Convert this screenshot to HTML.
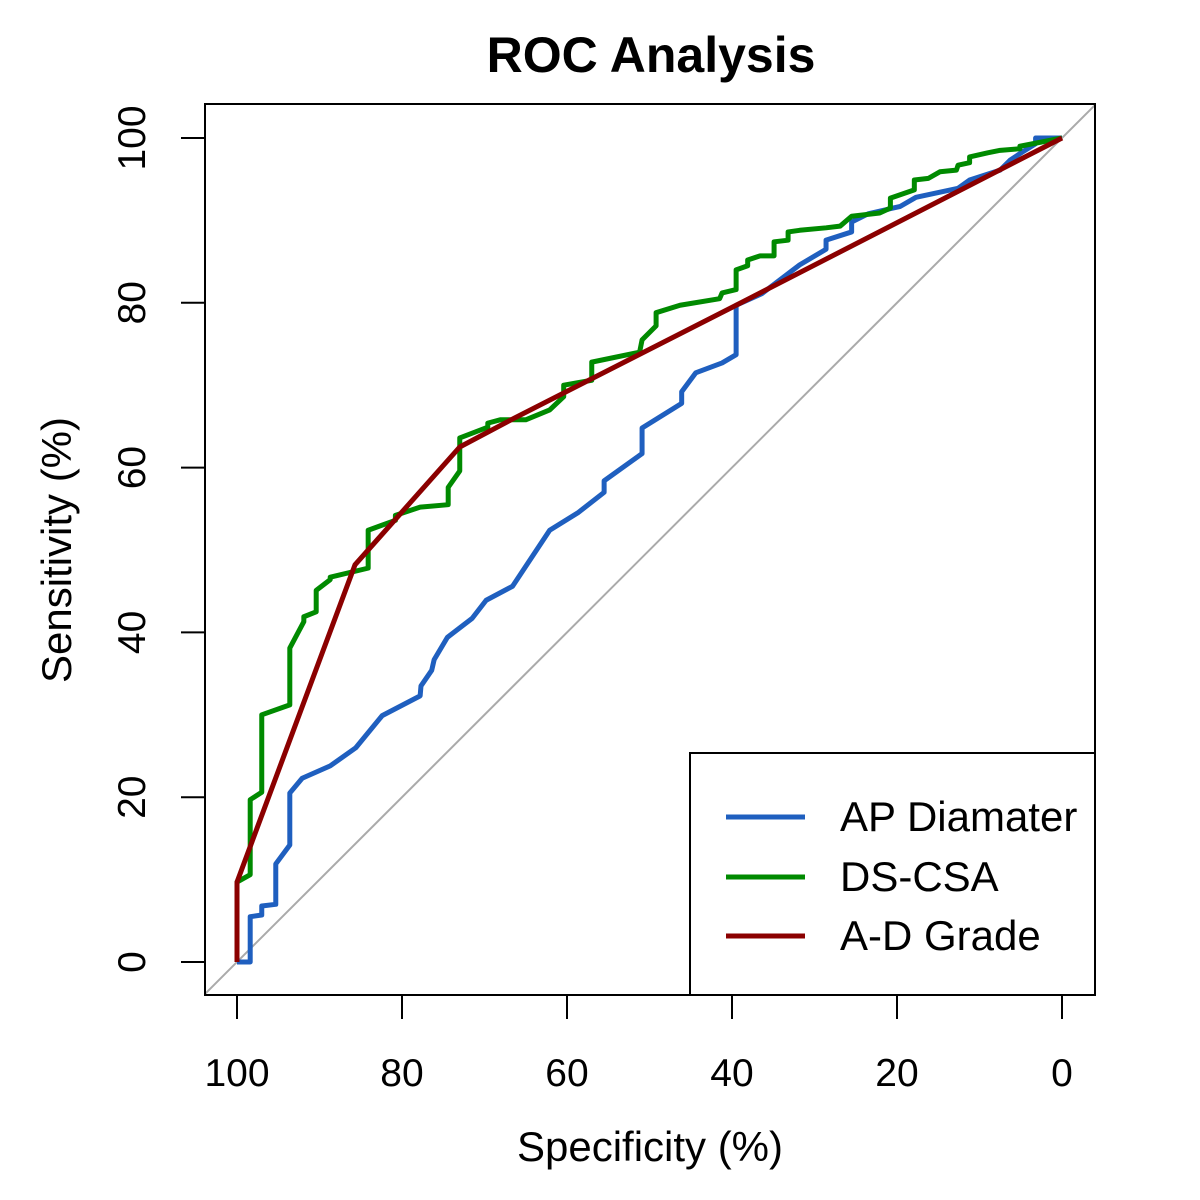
<!DOCTYPE html>
<html><head><meta charset="utf-8"><style>
html,body{margin:0;padding:0;background:#fff;}
svg{display:block;font-family:"Liberation Sans",Arial,sans-serif;}
</style></head><body>
<svg id="chart" width="1200" height="1200" viewBox="0 0 1200 1200">
<text x="651" y="72" text-anchor="middle" font-size="50" font-weight="bold">ROC Analysis</text>
<g id="axes"></g>
<g id="series"></g>
<rect x="205" y="104" width="890" height="891" fill="none" stroke="#000" stroke-width="2"/>
<g>
<rect x="690" y="753" width="405" height="242" fill="#fff" stroke="#000" stroke-width="2"/>
<line x1="726" y1="817" x2="805" y2="817" stroke="#1f5fbf" stroke-width="5"/>
<text x="840" y="831" font-size="42">AP Diamater</text>
<line x1="726" y1="877" x2="805" y2="877" stroke="#008a00" stroke-width="5"/>
<text x="840" y="891" font-size="42">DS-CSA</text>
<line x1="726" y1="936" x2="805" y2="936" stroke="#8b0000" stroke-width="5"/>
<text x="840" y="950" font-size="42">A-D Grade</text>
</g>
<text x="650" y="1161" text-anchor="middle" font-size="42">Specificity (%)</text>
<text transform="translate(71,550) rotate(-90)" text-anchor="middle" font-size="42">Sensitivity (%)</text>
</svg>
<script>
const xTicks = [100, 80, 60, 40, 20, 0];
const yTicks = [0, 20, 40, 60, 80, 100];
const apSpec = [100,98.4,98.4,97.0,97.0,95.3,95.3,93.6,93.6,92.1,88.7,85.6,82.4,77.8,77.7,76.4,76.1,74.5,71.5,69.8,66.6,62.1,58.7,55.5,55.5,50.9,50.9,46.1,46.1,44.4,41.2,39.5,39.5,36.4,31.8,28.6,28.6,25.5,25.5,23.5,19.6,17.7,12.6,11.2,7.5,6.3,4.8,3.2,3.2,0];
const apSens = [0,0,5.5,5.7,6.8,7.0,11.9,14.2,20.5,22.3,23.8,26.0,29.9,32.3,33.5,35.4,36.7,39.4,41.7,43.9,45.6,52.4,54.5,57.0,58.4,61.7,64.8,67.8,69.2,71.5,72.7,73.7,79.7,81.1,84.6,86.5,87.6,88.6,89.8,90.8,91.7,92.8,93.9,94.9,96.1,97.3,98.3,99.3,100,100];
const dsSpec = [100,100,98.4,98.4,97.0,97.0,93.6,93.6,91.9,91.9,90.4,90.4,88.7,88.7,84.1,84.1,80.8,80.8,77.8,74.4,74.4,73.0,73.0,69.6,69.6,68.1,65.0,62.1,60.4,60.4,57.0,57.0,51.2,50.9,49.2,49.2,46.3,41.5,41.2,39.5,39.5,38.1,38.1,36.6,34.9,34.9,33.2,33.2,31.8,28.6,26.9,25.5,22.1,20.8,20.8,17.9,17.9,16.2,14.8,12.8,12.6,11.2,11.2,9.0,7.5,5.1,5.1,0];
const dsSens = [0,9.7,10.6,19.7,20.6,30.0,31.2,38.1,41.3,41.9,42.5,45.1,46.4,46.7,47.8,52.4,53.6,54.2,55.2,55.5,57.6,59.6,63.6,64.9,65.4,65.8,65.8,67.0,68.6,70.0,70.6,72.8,74.0,75.5,77.2,78.8,79.7,80.5,81.2,81.6,84.0,84.5,85.2,85.7,85.7,87.4,87.6,88.6,88.8,89.1,89.3,90.5,90.9,91.5,92.7,93.7,94.9,95.1,95.9,96.1,96.7,97.0,97.7,98.2,98.5,98.7,99.0,100];
const adSpec = [100,100,85.7,73.0,66.4,39.5,0];
const adSens = [0,9.7,48.2,62.5,66.0,79.7,100];

const NS = "http://www.w3.org/2000/svg";
const X = s => 237 + (100 - s) * 8.25;
const Y = v => 962 - v * 8.24;
const axes = document.getElementById('axes');
const series = document.getElementById('series');
function mk(tag, attrs, parent){ const e=document.createElementNS(NS,tag); for(const k in attrs) e.setAttribute(k,attrs[k]); parent.appendChild(e); return e; }

const diag = mk('line',{x1:205,y1:Y(0)+(X(100)-205)*8.24/8.25,x2:1095,y2:Y(100)-(1095-X(0))*8.24/8.25,stroke:'#aaaaaa','stroke-width':2},series);



xTicks.forEach(t=>{
  const l=mk('line',{x1:X(t),y1:995,x2:X(t),y2:1019,stroke:'#000','stroke-width':2},axes);
  
  
  const tx=mk('text',{x:X(t),y:1086,'text-anchor':'middle','font-size':39},axes);
  tx.textContent=t;
  
  
});
yTicks.forEach(t=>{
  const l=mk('line',{x1:181,y1:Y(t),x2:205,y2:Y(t),stroke:'#000','stroke-width':2},axes);
  
  
  const tx=mk('text',{transform:`translate(145,${Y(t)}) rotate(-90)`,'text-anchor':'middle','font-size':39},axes);
  tx.textContent=t;
  
  
});
function line(xs,ys,color,name){
  const p=mk('polyline',{points:xs.map((s,i)=>X(s)+','+Y(ys[i])).join(' '),fill:'none',stroke:color,'stroke-width':5,'stroke-linejoin':'round'},series);
  
  
}
line(apSpec,apSens,'#1f5fbf','ap-diamater-curve');
line(dsSpec,dsSens,'#008a00','ds-csa-curve');
line(adSpec,adSens,'#8b0000','a-d-grade-curve');
</script>
</body></html>
